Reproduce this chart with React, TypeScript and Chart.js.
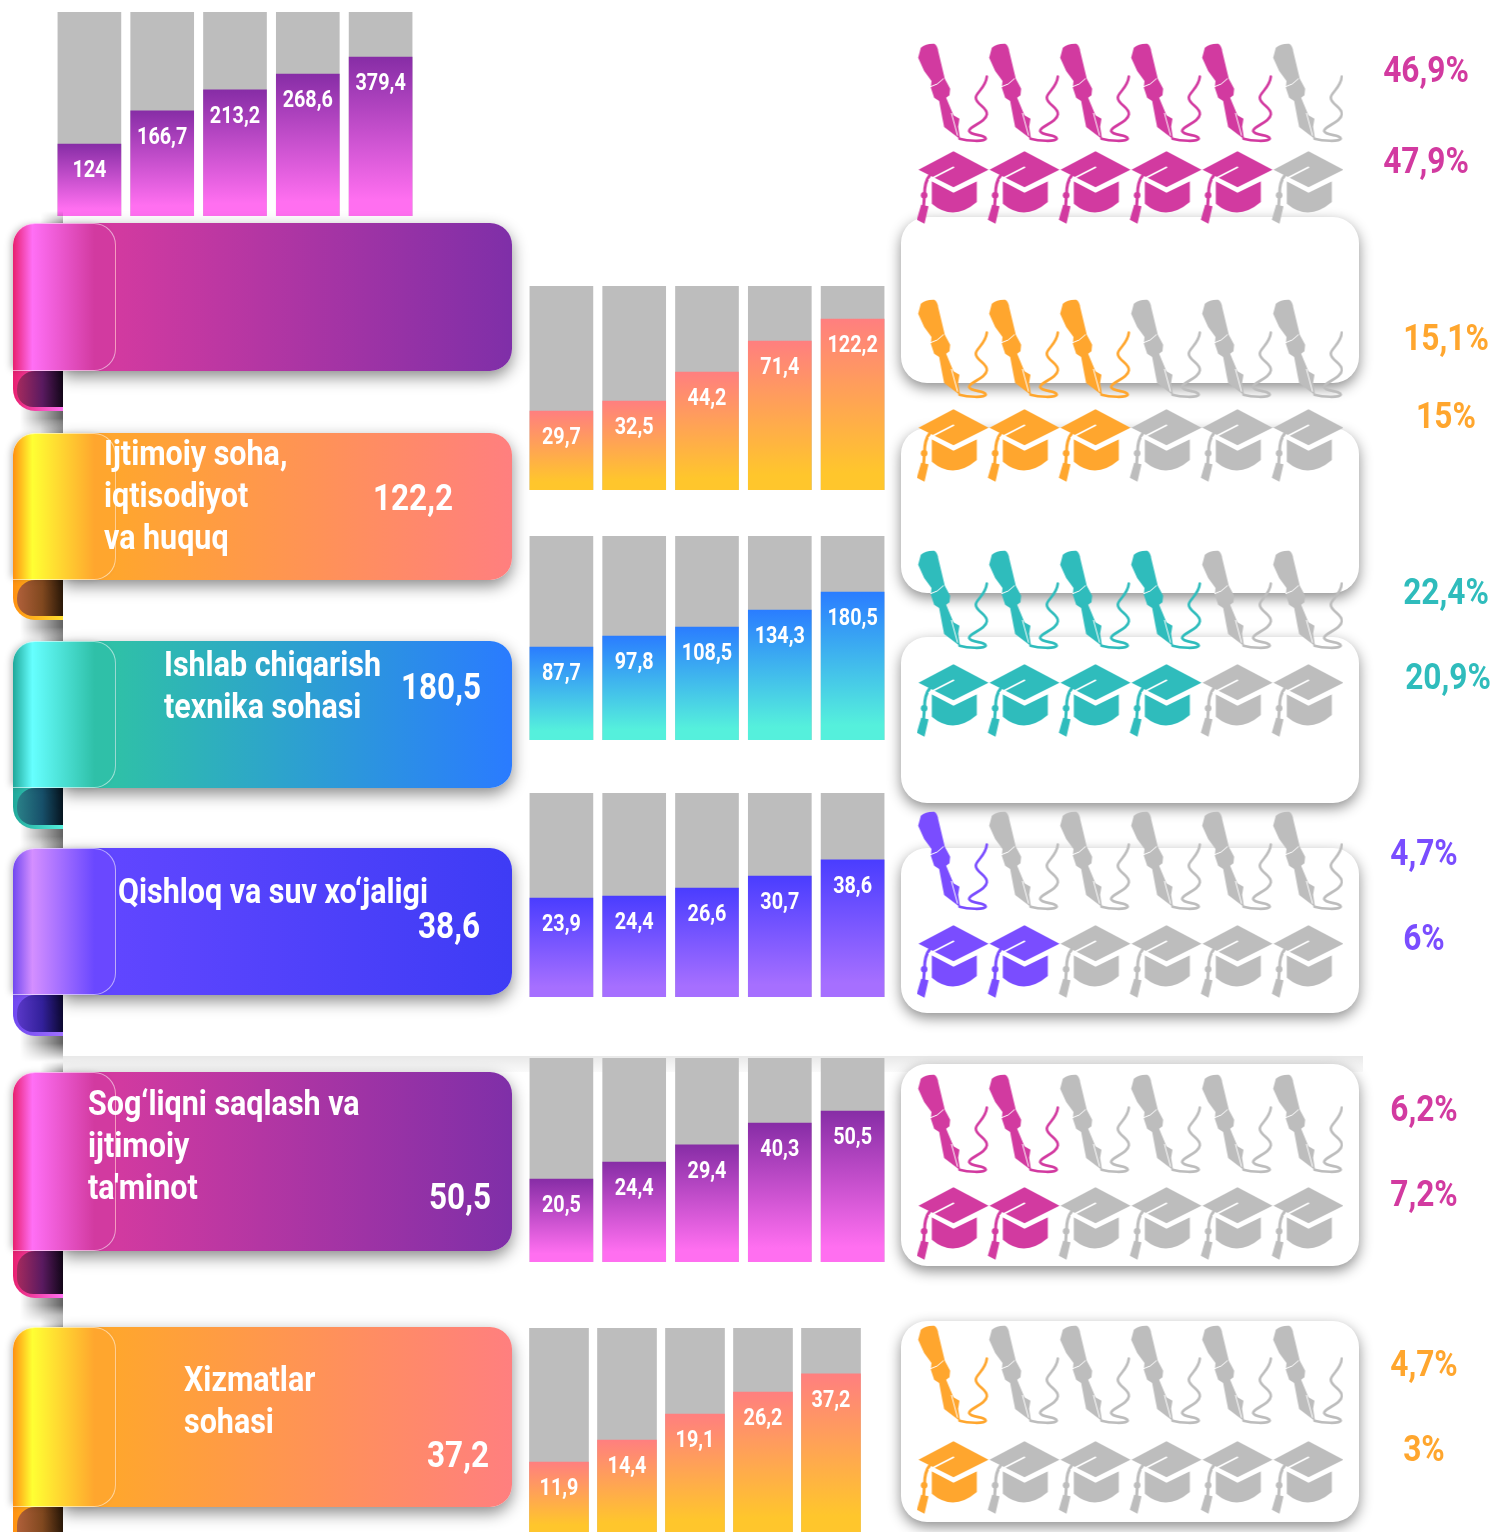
import React, { useEffect, useRef } from "react";
import { Chart, registerables } from "chart.js";
Chart.register(...registerables);

// ---------- data ----------
const barLabels1 = ["124", "166,7", "213,2", "268,6", "379,4"];
const barLevels1 = [35.3, 51.5, 61.8, 69.6, 77.9];
const barLabels2 = ["29,7", "32,5", "44,2", "71,4", "122,2"];
const barLevels2 = [38.7, 43.6, 57.8, 73.0, 83.8];
const barLabels3 = ["87,7", "97,8", "108,5", "134,3", "180,5"];
const barLevels3 = [45.6, 51.0, 55.4, 63.7, 72.5];
const barLabels4 = ["23,9", "24,4", "26,6", "30,7", "38,6"];
const barLevels4 = [48.5, 49.5, 53.4, 59.3, 67.2];
const barLabels5 = ["20,5", "24,4", "29,4", "40,3", "50,5"];
const barLevels5 = [40.7, 49.0, 57.4, 68.1, 74.0];
const barLabels6 = ["11,9", "14,4", "19,1", "26,2", "37,2"];
const barLevels6 = [34.3, 45.1, 57.8, 68.6, 77.5];

const penFilled = [5, 3, 4, 1, 2, 1];
const capFilled = [5, 3, 4, 2, 2, 1];
const penPercent = ["46,9%", "15,1%", "22,4%", "4,7%", "6,2%", "4,7%"];
const capPercent = ["47,9%", "15%", "20,9%", "6%", "7,2%", "3%"];

const ribbonTitles = [
  [],
  ["Ijtimoiy soha,", "iqtisodiyot", "va huquq"],
  ["Ishlab chiqarish", "texnika sohasi"],
  ["Qishloq va suv xo‘jaligi"],
  ["Sog‘liqni saqlash va", "ijtimoiy", "ta'minot"],
  ["Xizmatlar", "sohasi"],
];
const ribbonValues = ["", "122,2", "180,5", "38,6", "50,5", "37,2"];

// ---------- styling and layout ----------
const PINK = { barTop: "#872da6", barBottom: "#ff6ff0", icon: "#d23aa0", fold: ["#e8206f", "#ff6ff5", "#d23aa0"], body: ["#d23aa0", "#7f2fa8"], curl: ["#a52a5e", "#5a1a60", "#120618"], edge: "#ff6ff0" };
const ORANGE = { barTop: "#ff7f7f", barBottom: "#ffc62c", icon: "#ffa62e", fold: ["#ff9010", "#ffff33", "#ffa62e"], body: ["#ffa62e", "#ff7f7f"], curl: ["#b0603a", "#80481f", "#2a1808"], edge: "#ffe030" };
const TEAL = { barTop: "#2a7dff", barBottom: "#55f0dc", icon: "#2fbcbc", fold: ["#1fa89a", "#66ffff", "#2fc0a8"], body: ["#2fc0a8", "#2a7bff"], curl: ["#2a8088", "#17506a", "#06141f"], edge: "#55f0dc" };
const VIOLET = { barTop: "#4a3dff", barBottom: "#a66fff", icon: "#7a4dff", fold: ["#7048f0", "#d48fff", "#6a48ff"], body: ["#6046ff", "#3e3cf5"], curl: ["#5a38c8", "#32209a", "#0c0830"], edge: "#a070ff" };
const themes = [PINK, ORANGE, TEAL, VIOLET, PINK, ORANGE];

const barLayout = [
  { left: 53, top: 12, pitch: 72.8, thick: 63 },
  { left: 525, top: 286, pitch: 72.8, thick: 63 },
  { left: 525, top: 536, pitch: 72.8, thick: 63 },
  { left: 525, top: 793, pitch: 72.8, thick: 63 },
  { left: 525, top: 1058, pitch: 72.8, thick: 63 },
  { left: 524.5, top: 1328, pitch: 68, thick: 59 },
];
const barSets = [
  [barLabels1, barLevels1],
  [barLabels2, barLevels2],
  [barLabels3, barLevels3],
  [barLabels4, barLevels4],
  [barLabels5, barLevels5],
  [barLabels6, barLevels6],
] as [string[], number[]][];

const ribbonBox = [
  { top: 223, bottom: 371, curl: 40 },
  { top: 433, bottom: 580, curl: 40 },
  { top: 641, bottom: 788, curl: 41 },
  { top: 848, bottom: 995, curl: 41 },
  { top: 1072, bottom: 1251, curl: 47 },
  { top: 1327, bottom: 1507, curl: 47 },
];
const titleLayout = [
  { x: 0, ys: [] as number[] },
  { x: 104, ys: [453, 495, 537] },
  { x: 164, ys: [664, 706] },
  { x: 118, ys: [891] },
  { x: 88, ys: [1103, 1145, 1187] },
  { x: 184, ys: [1379, 1421] },
];
const valueLayout = [
  { x: 0, y: 0 },
  { x: 453, y: 498 },
  { x: 481, y: 687 },
  { x: 480, y: 926 },
  { x: 491, y: 1197 },
  { x: 489, y: 1455 },
];
const panelBox = [
  [217, 383],
  [428, 593],
  [637, 803],
  [848, 1013],
  [1064, 1266],
  [1321, 1522],
];
const iconRows = [
  { pen: 93, cap: 187 },
  { pen: 349, cap: 445 },
  { pen: 600, cap: 700 },
  { pen: 861, cap: 961 },
  { pen: 1124, cap: 1223 },
  { pen: 1375, cap: 1477 },
];
const percentLayout = [
  { pen: [1426, 70], cap: [1426, 161] },
  { pen: [1446, 338], cap: [1446, 416] },
  { pen: [1446, 592], cap: [1448, 677] },
  { pen: [1424, 853], cap: [1424, 938] },
  { pen: [1424, 1109], cap: [1424, 1194] },
  { pen: [1424, 1364], cap: [1424, 1449] },
];
const GREY = "#bdbdbd";
const FONT = "Roboto, sans-serif";

// ---------- icon sprites ----------
function makeIcon(kind: "pen" | "cap", color: string) {
  const c = document.createElement("canvas");
  c.width = 90;
  c.height = 110;
  const g = c.getContext("2d")!;
  g.translate(45, 55);
  g.scale(1 / 3, 1 / 3);
  g.fillStyle = color;
  g.strokeStyle = color;
  g.lineCap = "round";
  g.lineJoin = "round";
  if (kind === "pen") {
    g.translate(-155, -191);
    g.fill(new Path2D("M52,85 L60,55 Q75,42 100,43 Q110,48 112,65 L132,148 L148,178 L146,198 L136,205 L158,258 L176,268 L172,292 L178,330 L130,293 L125,268 L115,215 L100,205 L90,175 L92,155 L70,125 Z"));
    g.lineWidth = 8;
    g.stroke(new Path2D("M258,142 C255,175 225,190 225,205 C225,225 262,235 258,255 C255,280 205,290 205,305 C210,320 255,315 255,328 C250,338 200,335 176,328"));
    g.strokeStyle = "#ffffff";
    g.lineWidth = 3;
    g.stroke(new Path2D("M90,172 Q110,168 128,148"));
    g.lineWidth = 3;
    g.stroke(new Path2D("M152,252 L170,318"));
  } else {
    g.translate(-162, -467);
    g.fill(new Path2D("M165,360 L270,415 L165,468 L60,415 Z"));
    g.fill(new Path2D("M100,450 L165,484 L235,450 L235,512 Q165,572 100,517 Z"));
    g.lineWidth = 9;
    g.stroke(new Path2D("M95,430 Q78,450 78,490 L75,530"));
    g.fill(new Path2D("M68,520 L90,525 L78,577 L55,565 Z"));
    g.beginPath();
    g.arc(77, 492, 10, 0, Math.PI * 2);
    g.fill();
    g.strokeStyle = "#ffffff";
    g.lineWidth = 5;
    g.stroke(new Path2D("M165,408 L92,445"));
    g.stroke(new Path2D("M100,447 L165,480 L235,447"));
  }
  return c;
}

function barChart(canvas: HTMLCanvasElement, i: number) {
  const [labels, levels] = barSets[i];
  const th = themes[i];
  const thick = barLayout[i].thick;
  const fade = (ctx: any) => {
    const area = ctx.chart.chartArea;
    if (!area || ctx.raw == null) return th.barTop;
    const y = ctx.chart.scales.y.getPixelForValue(ctx.raw);
    const grad = ctx.chart.ctx.createLinearGradient(0, y, 0, area.bottom);
    grad.addColorStop(0, th.barTop);
    grad.addColorStop(0.9, th.barBottom);
    grad.addColorStop(1, th.barBottom);
    return grad;
  };
  return new Chart(canvas, {
    type: "bar",
    data: {
      labels,
      datasets: [
        { data: levels, backgroundColor: fade, grouped: false, order: 1, barThickness: thick, borderWidth: 0 },
        { data: labels.map(() => 100), backgroundColor: GREY, grouped: false, order: 2, barThickness: thick, borderWidth: 0 },
      ],
    },
    options: {
      animation: false,
      responsive: false,
      events: [],
      layout: { padding: 0 },
      plugins: { legend: { display: false }, tooltip: { enabled: false } },
      scales: {
        x: { display: false },
        y: { display: false, min: 0, max: 100 },
      },
    },
    plugins: [
      {
        id: "barText",
        afterDatasetsDraw(chart: any) {
          const g = chart.ctx;
          chart.getDatasetMeta(0).data.forEach((bar: any, k: number) => {
            g.save();
            g.translate(bar.x, bar.y + 27);
            g.scale(0.86, 1);
            g.font = `700 23px ${FONT}`;
            g.fillStyle = "#ffffff";
            g.textAlign = "center";
            g.textBaseline = "middle";
            g.fillText(labels[k], 0, 0);
            g.restore();
          });
        },
      },
    ],
  } as any);
}

function iconChart(canvas: HTMLCanvasElement, i: number) {
  const color = themes[i].icon;
  const idx = [1, 2, 3, 4, 5, 6];
  const pts = idx.map((x) => ({ x, y: 1 })).concat(idx.map((x) => ({ x, y: 0 })));
  const filled = idx.map((x) => x <= penFilled[i]).concat(idx.map((x) => x <= capFilled[i]));
  const sprite = {
    pc: makeIcon("pen", color),
    pg: makeIcon("pen", GREY),
    cc: makeIcon("cap", color),
    cg: makeIcon("cap", GREY),
  };
  const styles = pts.map((p, k) =>
    p.y === 1 ? (filled[k] ? sprite.pc : sprite.pg) : filled[k] ? sprite.cc : sprite.cg
  );
  return new Chart(canvas, {
    type: "scatter",
    data: { datasets: [{ data: pts, pointStyle: styles, pointRadius: 1, clip: false } as any] },
    options: {
      animation: false,
      responsive: false,
      events: [],
      layout: { padding: 0, autoPadding: false },
      plugins: { legend: { display: false }, tooltip: { enabled: false } },
      scales: {
        x: { display: false, min: 0.5, max: 6.5 },
        y: { display: false, min: -1, max: 2 },
      },
    },
  } as any);
}

const abs = (o: any): React.CSSProperties => ({ position: "absolute", ...o });

function Ribbon({ i }: { i: number }) {
  const b = ribbonBox[i];
  const t = themes[i];
  const h = b.bottom - b.top;
  const end = b.bottom + b.curl;
  const cut = "linear-gradient(to right, rgba(0,0,0,0), rgba(0,0,0,.62))";
  return (
    <>
      <div style={abs({ left: 20, top: end - 8, width: 43, height: 34, background: cut, WebkitMaskImage: "linear-gradient(to bottom,#000 45%,transparent)", zIndex: 3 })} />
      <div style={abs({ left: 40, top: b.top - 12, width: 23, height: 12, background: cut, opacity: 0.6, WebkitMaskImage: "linear-gradient(to top,#000,transparent)", zIndex: 3 })} />
      <div style={abs({ left: 13, top: b.bottom - 24, width: 50, height: b.curl + 24, background: t.edge, backgroundImage: `linear-gradient(to right, ${t.fold[0]}, ${t.edge})`, borderBottomLeftRadius: 22, zIndex: 3 })} />
      <div style={abs({ left: 17, top: b.bottom, width: 46, height: b.curl - 4, background: `linear-gradient(to right, ${t.curl[0]}, ${t.curl[1]} 55%, ${t.curl[2]})`, borderRadius: "18px 0 0 16px", zIndex: 3 })} />
      <div style={abs({ left: 63, top: b.top, width: 449, height: h, background: `linear-gradient(to right, ${t.body[0]} 12%, ${t.body[1]})`, borderRadius: "0 22px 22px 0", boxShadow: "0 6px 16px rgba(0,0,0,.46)", zIndex: 3 })} />
      <div style={abs({ left: 13, top: b.top, width: 103, height: h, boxSizing: "border-box", background: `linear-gradient(to right, ${t.fold[0]}, ${t.fold[1]} 19%, ${t.fold[2]} 80%)`, border: "1px solid rgba(255,255,255,.55)", borderLeft: "none", borderRadius: "22px 22px 22px 0", boxShadow: "-4px 0 7px -2px rgba(0,0,0,.25)", zIndex: 3 })} />
    </>
  );
}

function Txt({ x, y, text, color, size, weight, scale, anchor }: any) {
  const origin = anchor === "end" ? "right center" : anchor === "middle" ? "center center" : "left center";
  const shift = anchor === "end" ? "-100%" : anchor === "middle" ? "-50%" : "0";
  return (
    <div style={abs({ left: x, top: y, zIndex: 5, transform: `translate(${shift},-50%)` })}>
      <div style={{ fontFamily: FONT, fontSize: size, fontWeight: weight, color, whiteSpace: "nowrap", lineHeight: 1, transform: `scaleX(${scale})`, transformOrigin: origin }}>{text}</div>
    </div>
  );
}

export default function App() {
  const barRefs = useRef<(HTMLCanvasElement | null)[]>([]);
  const iconRefs = useRef<(HTMLCanvasElement | null)[]>([]);
  useEffect(() => {
    const charts: Chart[] = [];
    themes.forEach((_, i) => {
      charts.push(barChart(barRefs.current[i]!, i));
      charts.push(iconChart(iconRefs.current[i]!, i));
    });
    return () => charts.forEach((c) => c.destroy());
  }, []);
  return (
    <div style={{ position: "absolute", left: 0, top: 0, width: 1492, height: 1532, overflow: "hidden", background: "#fff" }}>
      <style>{"html,body{margin:0;padding:0;background:#fff}"}</style>
      <div style={abs({ left: 63, top: 1056, width: 1300, height: 16, background: "linear-gradient(to bottom, rgba(0,0,0,.09), rgba(0,0,0,.02))", zIndex: 0 })} />
      {panelBox.map(([top, bottom], i) => (
        <div key={i} style={abs({ left: 901, top, width: 458, height: bottom - top, background: "#fff", borderRadius: 26, boxShadow: "0 5px 14px rgba(0,0,0,.45)", zIndex: 1 })} />
      ))}
      {barLayout.map((l, i) => (
        <canvas
          key={i}
          ref={(el) => { barRefs.current[i] = el; }}
          width={Math.round(l.pitch * 5)}
          height={204}
          style={abs({ left: l.left, top: l.top, width: Math.round(l.pitch * 5), height: 204, zIndex: 2 })}
        />
      ))}
      {themes.map((_, i) => <Ribbon key={i} i={i} />)}
      {iconRows.map((r, i) => {
        const gap = r.cap - r.pen;
        return (
          <canvas
            key={i}
            ref={(el) => { iconRefs.current[i] = el; }}
            width={426}
            height={gap * 3}
            style={abs({ left: 917, top: r.pen - gap, width: 426, height: gap * 3, zIndex: 4 })}
          />
        );
      })}
      {ribbonTitles.map((lines, i) =>
        lines.map((line, k) => (
          <Txt key={`${i}-${k}`} x={titleLayout[i].x} y={titleLayout[i].ys[k]} text={line} color="#ffffff" size={35} weight={700} scale={0.87} />
        ))
      )}
      {ribbonValues.map((v, i) =>
        v ? <Txt key={i} x={valueLayout[i].x} y={valueLayout[i].y} text={v} color="#ffffff" size={36} weight={700} scale={0.875} anchor="end" /> : null
      )}
      {themes.map((t, i) => (
        <React.Fragment key={i}>
          <Txt x={percentLayout[i].pen[0]} y={percentLayout[i].pen[1]} text={penPercent[i]} color={t.icon} size={36} weight={700} scale={0.88} anchor="middle" />
          <Txt x={percentLayout[i].cap[0]} y={percentLayout[i].cap[1]} text={capPercent[i]} color={t.icon} size={36} weight={700} scale={0.88} anchor="middle" />
        </React.Fragment>
      ))}
    </div>
  );
}
